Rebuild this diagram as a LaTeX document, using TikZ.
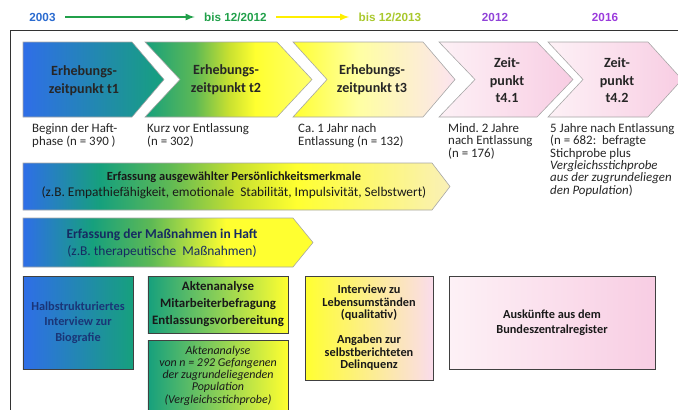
\documentclass[tikz,border=0pt]{standalone}
\usepackage{fontspec}
\setmainfont{Carlito}
\newfontfamily\arialfont{Liberation Sans}
\usepackage{tikz}
\usetikzlibrary{shapes,shapes.symbols,arrows,positioning}
\frenchspacing

\definecolor{tpblue}{HTML}{2F6EE8}
\definecolor{tpteal}{HTML}{16A07D}
\definecolor{tpgreen}{HTML}{5DB955}
\definecolor{tplime}{HTML}{C8E030}
\definecolor{tpyellow}{HTML}{FFFF30}
\definecolor{tplight}{HTML}{FAF0B8}
\definecolor{tppink}{HTML}{F8CDE3}
\definecolor{tppale}{HTML}{FDF1F6}
\definecolor{navytext}{HTML}{1F3E8C}
\definecolor{yrblue}{HTML}{2B6BD0}
\definecolor{yrgreen}{HTML}{21A04A}
\definecolor{yrlime}{HTML}{A9C82D}
\definecolor{yrpurple}{HTML}{9042D8}
\definecolor{yryellow}{HTML}{FFEF00}

% shadings for the time points and the two long arrows
\pgfdeclarehorizontalshading{tponeshade}{100bp}{color(0bp)=(tpblue); color(25bp)=(tpblue); color(75bp)=(tpteal); color(100bp)=(tpteal)}
\pgfdeclarehorizontalshading{tptwoshade}{100bp}{color(0bp)=(tpteal); color(25bp)=(tpteal); color(40bp)=(tpgreen); color(50bp)=(tplime); color(58bp)=(tpyellow); color(75bp)=(tpyellow!70!white); color(100bp)=(tpyellow!70!white)}
\pgfdeclarehorizontalshading{tpthreeshade}{100bp}{color(0bp)=(tpyellow); color(25bp)=(tpyellow); color(45bp)=(tpyellow!45!white); color(75bp)=(tppink!55!white); color(100bp)=(tppink!55!white)}
\pgfdeclarehorizontalshading{tpfourshade}{100bp}{color(0bp)=(tppale); color(25bp)=(tppale); color(75bp)=(tppink); color(100bp)=(tppink)}
\pgfdeclarehorizontalshading{persshade}{100bp}{color(0bp)=(tpblue); color(25bp)=(tpblue); color(34bp)=(tpteal); color(42bp)=(tpgreen); color(50bp)=(tplime); color(57bp)=(tpyellow); color(75bp)=(tplight); color(100bp)=(tplight)}
\pgfdeclarehorizontalshading{massshade}{100bp}{color(0bp)=(tpblue); color(25bp)=(tpblue); color(37bp)=(tpteal); color(47bp)=(tpgreen); color(60bp)=(tpyellow); color(75bp)=(tpyellow); color(100bp)=(tpyellow)}

\begin{document}
\begin{tikzpicture}[x=0.03cm, y=-0.03cm,
    chev/.style={draw=gray!70, line width=0.5pt},
    tptext/.style={inner sep=0pt, align=center, font=\bfseries\fontsize{12}{15.5}\selectfont, text=black!85},
    caption/.style={anchor=north west, inner sep=0pt, align=left,
                    font=\fontsize{11}{11.2}\selectfont, text=black!85},
    fieldbox/.style={rectangle, draw=black!75, line width=0.6pt, inner sep=2pt, align=center, text=black!90},
    year/.style={inner sep=0pt, font=\arialfont\bfseries\fontsize{10}{12}\selectfont}]
    \useasboundingbox (0,0) rectangle (678,409);
    \clip (0,0) rectangle (678,409);

    % time line on top
    \node[year, text=yrblue] (y2003) at (42.5,17) {2003};
    \node[year, text=yrgreen] (y2012a) at (235.5,17) {bis 12/2012};
    \node[year, text=yrlime] (y2013) at (390,17) {bis 12/2013};
    \node[year, text=yrpurple] (y2012b) at (495,17) {2012};
    \node[year, text=yrpurple!90!magenta] (y2016) at (605,17) {2016};
    \draw[-latex, line width=1.6pt, draw=yrgreen, shorten <=8pt, shorten >=8pt] (y2003) -- (y2012a);
    \draw[-latex, line width=1.6pt, draw=yryellow, shorten <=8pt, shorten >=8pt] (y2012a) -- (y2013);

    % frame
    \draw[black!80, line width=0.8pt] (10,430) -- (10,30) -- (700,30);

    % survey time points
    \shade[chev, shading=tponeshade] (23,42) -- (132,42) -- (164,79.5) -- (132,117) -- (23,117) -- cycle;
    \shade[chev, shading=tptwoshade] (145,42) -- (277,42) -- (312,79.5) -- (277,117) -- (145,117) -- (180,79.5) -- cycle;
    \shade[chev, shading=tpthreeshade] (293,42) -- (423,42) -- (455,79.5) -- (423,117) -- (293,117) -- (327,79.5) -- cycle;
    \shade[chev, shading=tpfourshade] (439,42) -- (537,42) -- (573,79.5) -- (537,117) -- (439,117) -- (475,79.5) -- cycle;
    \shade[chev, shading=tpfourshade] (548,42) -- (648,42) -- (682,79.5) -- (648,117) -- (548,117) -- (583,79.5) -- cycle;
    \node[tptext] (t1) at (84,81) {Erhebungs-\\zeitpunkt t1};
    \node[tptext] (t2) at (226,80) {Erhebungs-\\zeitpunkt t2};
    \node[tptext] (t3) at (372,80) {Erhebungs-\\zeitpunkt t3};
    \node[tptext, font=\bfseries\fontsize{12}{15}\selectfont] (t41) at (507,80.5) {Zeit-\\punkt\\t4.1};
    \node[tptext, font=\bfseries\fontsize{12}{15}\selectfont] (t42) at (617,80.5) {Zeit-\\punkt\\t4.2};

    % samples below the time points
    \node[caption] (c1) at (32,123) {Beginn der Haft-\\phase (n = 390 )};
    \node[caption] (c2) at (147,123) {Kurz vor Entlassung\\(n = 302)};
    \node[caption] (c3) at (298,123) {Ca. 1 Jahr nach\\Entlassung (n = 132)};
    \node[caption, font=\fontsize{11}{10.6}\selectfont] (c41) at (448,123) {Mind. 2 Jahre\\nach Entlassung\\(n = 176)};
    \node[caption, font=\fontsize{11}{10.6}\selectfont] (c42) at (550,123) {5 Jahre nach Entlassung\\(n = 682:~ befragte\\Stichprobe plus\\
          \textit{Vergleichsstichprobe}\\\textit{aus der zugrundeliegen}\\\textit{den Population})};

    % long arrows
    \shade[chev, shading=persshade] (23,163) -- (432,163) -- (450,186.5) -- (432,210) -- (23,210) -- cycle;
    \node[inner sep=0pt, align=center, font=\fontsize{11.4}{13.4}\selectfont, text=black!90] (pers) at (234,185.5)
          {{\bfseries\fontsize{10.6}{13.4}\selectfont Erfassung ausgewählter Persönlichkeitsmerkmale}\\
           (z.B. Empathiefähigkeit, emotionale~ Stabilität, Impulsivität, Selbstwert)};
    \shade[chev, shading=massshade] (23,218) -- (293,218) -- (313,242.5) -- (293,267) -- (23,267) -- cycle;
    \node[inner sep=0pt, align=center, font=\fontsize{11.5}{14}\selectfont, text=navytext!70!black] (mass) at (162,243.5)
          {\textbf{Erfassung der Maßnahmen in Haft}\\(z.B. therapeutische~ Maßnahmen)};

    % data sources
    \node[fieldbox, left color=tpblue, right color=tpteal, minimum width=3.3cm, minimum height=2.79cm,
          font=\bfseries\fontsize{10.5}{13.2}\selectfont, text=navytext!85!black] (bio) at (78,322.5)
          {Halbstrukturiertes\\Interview zur\\Biografie};
    \node[fieldbox, left color=tpteal, middle color=tplime!80!tpgreen, right color=tpyellow,
          minimum width=4.2cm, minimum height=1.71cm, font=\bfseries\fontsize{11}{14.5}\selectfont] (akten) at (218,304.5)
          {Aktenanalyse\\Mitarbeiterbefragung\\Entlassungsvorbereitung};
    \node[fieldbox, left color=tpteal, middle color=tplime!80!tpgreen, right color=tpyellow,
          minimum width=4.2cm, minimum height=2.13cm, font=\itshape\fontsize{10.2}{10.5}\selectfont] (vgl) at (218,375.5)
          {Aktenanalyse\\von n = 292 Gefangenen\\der zugrundeliegenden\\Population\\(Vergleichsstichprobe)};
    \node[fieldbox, left color=tpyellow, middle color=tpyellow!55!tppink!80!orange, right color=tppink!70!white,
          minimum width=3.84cm, minimum height=3.12cm, font=\bfseries\fontsize{10.5}{10.7}\selectfont] (leben) at (369,328)
          {Interview zu\\Lebensumständen\\(qualitativ)\\[10.7pt]Angaben zur\\selbstberichteten\\Delinquenz};
    \node[fieldbox, left color=tppale, right color=tppink, minimum width=6.18cm, minimum height=2.79cm,
          font=\bfseries\fontsize{10.5}{13}\selectfont] (bzr) at (552,322.5)
          {Auskünfte aus dem\\Bundeszentralregister};
\end{tikzpicture}
\end{document}
